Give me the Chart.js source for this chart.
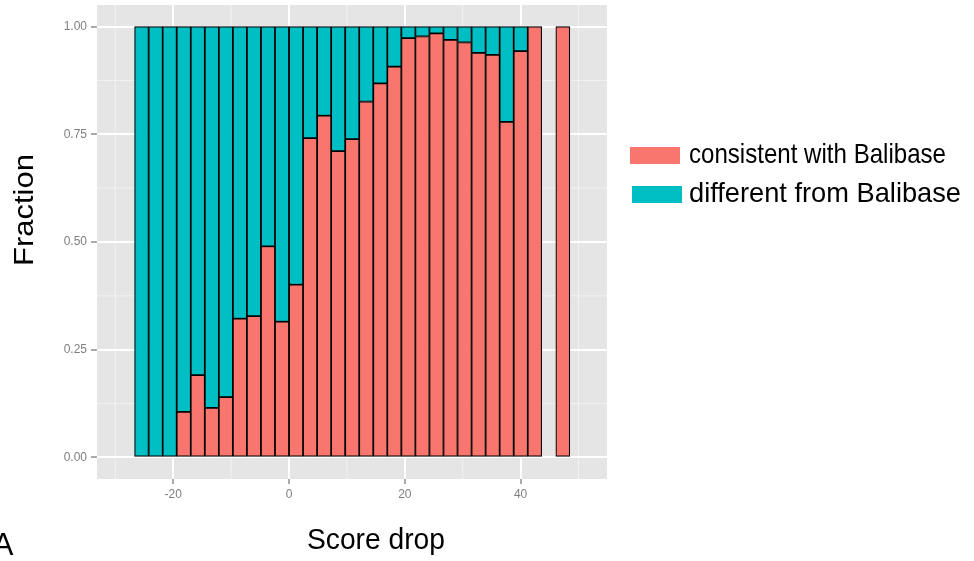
<!DOCTYPE html>
<html><head><meta charset="utf-8">
<script src="https://cdn.jsdelivr.net/npm/chart.js@4.4.1/dist/chart.umd.min.js"></script>
<style>html,body{margin:0;padding:0;background:#fff;}canvas{display:block}</style>
</head><body>
<canvas id="c" width="974" height="561"></canvas>
<script>
// ---- data ----
const binCenters = [-25.46,-23.03,-20.61,-18.18,-15.76,-13.33,-10.91,-8.48,-6.06,-3.63,-1.21,1.22,3.64,6.07,8.49,10.92,13.34,15.77,18.19,20.62,23.04,25.47,27.89,30.32,32.74,35.17,37.59,40.02,42.44,44.87,47.29];
const consistentFrac = [0,0,0,0.106,0.191,0.115,0.140,0.322,0.328,0.490,0.315,0.401,0.741,0.793,0.711,0.739,0.826,0.868,0.907,0.973,0.977,0.984,0.969,0.963,0.939,0.934,0.779,0.943,1,null,1];
const differentFrac  = [1,1,1,0.894,0.809,0.885,0.860,0.678,0.672,0.510,0.685,0.599,0.259,0.207,0.289,0.261,0.174,0.132,0.093,0.027,0.023,0.016,0.031,0.037,0.061,0.066,0.221,0.057,0,null,0];
const seriesLabels = ['consistent with Balibase','different from Balibase'];
const seriesColors = ['#F8766D','#00BFC4'];
const xTicks = [-20,0,20,40];
const xMinor = [-30,-10,10,30,50];
const yTicks = [0,0.25,0.5,0.75,1];
const yMinor = [0.125,0.375,0.625,0.875];
const xTitle = 'Score drop';
const yTitle = 'Fraction';
const panelLabel = 'A';

const FONT = '"Liberation Sans", Arial, Helvetica, sans-serif';

function toPoints(vals){
  return binCenters.map((c,i)=>({x:c, y:(vals[i]===0||vals[i]==null)?null:vals[i]}));
}

function drawText(ctx, txt, x, y, size, width, opts){
  opts = opts || {};
  ctx.save();
  ctx.font = size + 'px ' + FONT;
  const w = ctx.measureText(txt).width;
  const s = width ? width / w : 1;
  ctx.translate(x, y);
  if (opts.xsquash) ctx.scale(opts.xsquash, 1);
  if (opts.rotate) ctx.rotate(opts.rotate);
  ctx.scale(s, 1);
  ctx.textAlign = opts.align || 'left';
  ctx.textBaseline = 'alphabetic';
  ctx.fillStyle = opts.color || '#000';
  ctx.fillText(txt, 0, 0);
  ctx.restore();
}

const ggPlugin = {
  id: 'gg',
  beforeDraw(chart){
    const {ctx, chartArea:a, scales} = chart;
    ctx.save();
    ctx.fillStyle = '#E5E5E5';
    ctx.fillRect(a.left, a.top, a.right-a.left, a.bottom-a.top);
    ctx.strokeStyle = '#F2F2F2';
    ctx.lineWidth = 1;
    ctx.beginPath();
    xMinor.forEach(v=>{const p=scales.x.getPixelForValue(v); if(p>=a.left&&p<=a.right){ctx.moveTo(p,a.top);ctx.lineTo(p,a.bottom);}});
    yMinor.forEach(v=>{const p=scales.y.getPixelForValue(v); ctx.moveTo(a.left,p);ctx.lineTo(a.right,p);});
    ctx.stroke();
    ctx.restore();
  },
  afterDraw(chart){
    const ctx = chart.ctx;
    // legend
    const sw = [[630,147,50,17],[632,186,50,17]];
    const lx = [689, 689], ly = [163, 202], lw = [257, 272];
    chart.data.datasets.forEach((ds,i)=>{
      ctx.fillStyle = ds.backgroundColor;
      ctx.fillRect(sw[i][0], sw[i][1], sw[i][2], sw[i][3]);
      drawText(ctx, ds.label, lx[i], ly[i], 28, lw[i]);
    });
    drawText(ctx, xTitle, 307, 549, 30, 138);
    drawText(ctx, yTitle, 33, 210, 30, 112, {rotate:-Math.PI/2, align:'center', xsquash:0.9});
    drawText(ctx, panelLabel, 13.5, 555, 31, 0, {align:'right'});
  }
};

new Chart(document.getElementById('c'), {
  type: 'bar',
  data: {
    datasets: [
      {label: seriesLabels[0], data: toPoints(consistentFrac), backgroundColor: seriesColors[0], borderColor:'#000', borderWidth:1.2, borderSkipped:false, barPercentage:1, categoryPercentage:1},
      {label: seriesLabels[1], data: toPoints(differentFrac), backgroundColor: seriesColors[1], borderColor:'#000', borderWidth:1.2, borderSkipped:false, barPercentage:1, categoryPercentage:1}
    ]
  },
  options: {
    responsive: false,
    animation: false,
    events: [],
    layout: {padding: {left:0, top:5, right:367, bottom:0}},
    plugins: {legend:{display:false}, tooltip:{enabled:false}},
    scales: {
      x: {
        type:'linear', min:-33.16, max:54.92, offset:false, stacked:true,
        afterBuildTicks: s => { s.ticks = xTicks.map(v=>({value:v})); },
        afterFit: s => { s.height = 82; s.paddingLeft = 0; s.paddingRight = 0; },
        border:{display:false},
        grid:{color:'#FFFFFF', lineWidth:2, offset:false, tickColor:'#555', tickWidth:1, tickLength:5},
        ticks:{color:'#7F7F7F', font:{family:FONT, size:12}, padding:3, maxRotation:0, autoSkip:false, callback: v => String(v)}
      },
      y: {
        type:'linear', min:-0.05, max:1.05, stacked:true,
        afterBuildTicks: s => { s.ticks = yTicks.map(v=>({value:v})); },
        afterFit: s => { s.width = 97; s.paddingTop = 0; s.paddingBottom = 0; },
        border:{display:false},
        grid:{color:'#FFFFFF', lineWidth:2, tickColor:'#555', tickWidth:1, tickLength:6},
        ticks:{color:'#7F7F7F', font:{family:FONT, size:12}, padding:4, autoSkip:false, callback: v => Number(v).toFixed(2)}
      }
    }
  },
  plugins: [ggPlugin]
});
</script>
</body></html>
